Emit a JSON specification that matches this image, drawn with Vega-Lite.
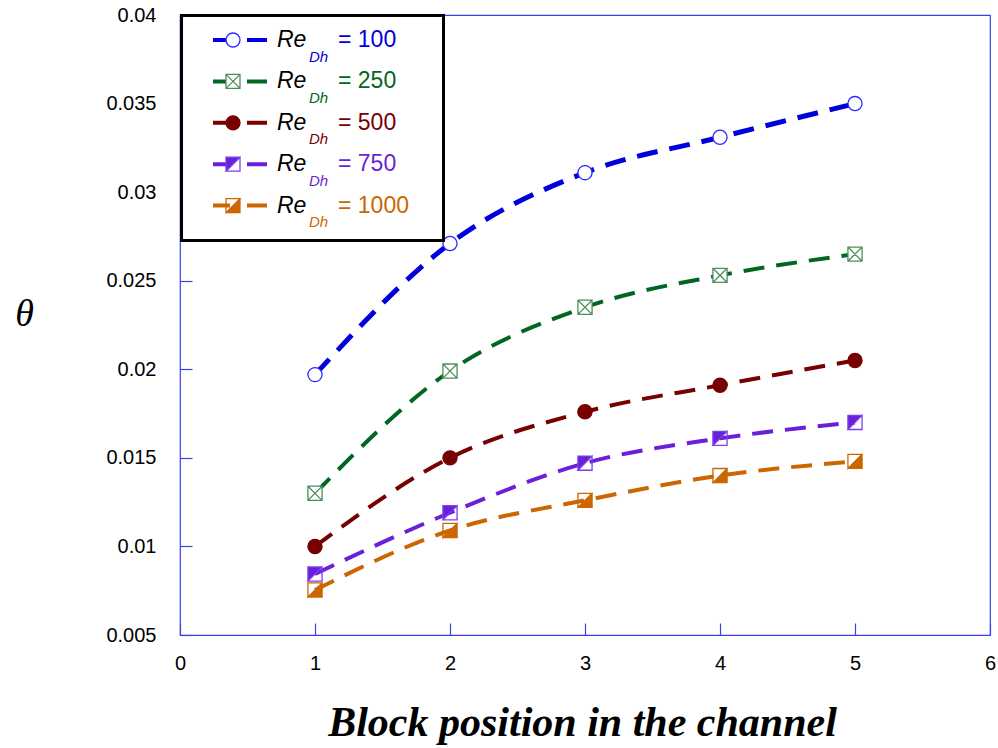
{
  "$schema": "https://vega.github.io/schema/vega-lite/v6.json",
  "width": 810,
  "height": 620,
  "autosize": {"type": "none"},
  "padding": {"left": 180, "top": 15, "right": 8, "bottom": 113},
  "background": "white",
  "config": {
    "view": {"stroke": "#3344ee", "strokeWidth": 1.2},
    "font": "Liberation Sans"
  },
  "data": {
    "values": [
      {"pos": 1, "theta": 0.0197, "Re": 100},
      {"pos": 2, "theta": 0.0271, "Re": 100},
      {"pos": 3, "theta": 0.0311, "Re": 100},
      {"pos": 4, "theta": 0.0331, "Re": 100},
      {"pos": 5, "theta": 0.0350, "Re": 100},
      {"pos": 1, "theta": 0.0130, "Re": 250},
      {"pos": 2, "theta": 0.0199, "Re": 250},
      {"pos": 3, "theta": 0.0235, "Re": 250},
      {"pos": 4, "theta": 0.0253, "Re": 250},
      {"pos": 5, "theta": 0.0265, "Re": 250},
      {"pos": 1, "theta": 0.0100, "Re": 500},
      {"pos": 2, "theta": 0.0150, "Re": 500},
      {"pos": 3, "theta": 0.0176, "Re": 500},
      {"pos": 4, "theta": 0.0191, "Re": 500},
      {"pos": 5, "theta": 0.0205, "Re": 500},
      {"pos": 1, "theta": 0.00844, "Re": 750},
      {"pos": 2, "theta": 0.0119, "Re": 750},
      {"pos": 3, "theta": 0.0147, "Re": 750},
      {"pos": 4, "theta": 0.0161, "Re": 750},
      {"pos": 5, "theta": 0.0170, "Re": 750},
      {"pos": 1, "theta": 0.00754, "Re": 1000},
      {"pos": 2, "theta": 0.0109, "Re": 1000},
      {"pos": 3, "theta": 0.0126, "Re": 1000},
      {"pos": 4, "theta": 0.0140, "Re": 1000},
      {"pos": 5, "theta": 0.0148, "Re": 1000}
    ]
  },
  "encoding": {
    "x": {
      "field": "pos", "type": "quantitative",
      "scale": {"domain": [0, 6], "nice": false},
      "axis": {
        "values": [0, 1, 2, 3, 4, 5, 6], "format": "d", "grid": false,
        "domain": false, "offset": -12,
        "tickSize": 12, "tickColor": "#3344ee", "tickWidth": 1.2,
        "labelFontSize": 20, "labelColor": "black", "labelPadding": 18, "labelFlush": false,
        "title": "Block position in the channel",
        "titleFont": "Liberation Serif", "titleFontSize": 42, "titleFontStyle": "italic", "titleFontWeight": "bold",
        "titleColor": "black", "titleX": 402, "titleY": 112, "titleBaseline": "alphabetic", "titleAlign": "center"
      }
    },
    "y": {
      "field": "theta", "type": "quantitative",
      "scale": {"domain": [0.005, 0.04], "nice": false, "zero": false},
      "axis": {
        "values": [0.005, 0.01, 0.015, 0.02, 0.025, 0.03, 0.035, 0.04], "format": "~g", "grid": false,
        "domain": false, "offset": -12,
        "tickSize": 12, "tickColor": "#3344ee", "tickWidth": 1.2,
        "labelFontSize": 20, "labelColor": "black", "labelPadding": 24,
        "title": "θ", "titleAngle": 0,
        "titleFont": "Liberation Serif", "titleFontSize": 38, "titleFontStyle": "italic", "titleFontWeight": "normal",
        "titleColor": "black", "titleX": -168, "titleY": 299, "titleBaseline": "middle", "titleAlign": "center"
      }
    }
  },
  "layer": [
    {
      "mark": {"type": "line", "interpolate": "monotone", "strokeDash": [21, 12], "strokeCap": "butt"},
      "encoding": {
        "color": {
          "field": "Re", "type": "ordinal",
          "scale": {"range": ["#0000dd", "#006622", "#770000", "#6a1fd9", "#cc6600"]},
          "legend": {
            "orient": "none", "legendX": 1.5, "legendY": 0.5, "direction": "vertical",
            "padding": 13, "strokeColor": "black", "fillColor": "white",
            "title": "\u00a0", "titleOrient": "bottom", "titleFontSize": 8, "titlePadding": 2,
            "symbolType": "M-5.4,0H-2 M1.4,0H5.4 M36.4,0", "symbolSize": 100, "symbolStrokeWidth": 4,
            "symbolDash": [200, 0],
            "symbolOffset": 34, "labelOffset": 86.5,
            "labelFont": "Liberation Sans", "labelFontSize": 23, "labelLimit": 300,
            "labelExpr": "'= ' + datum.label",
            "rowPadding": 17.4,
            "encode": {
              "labels": {"update": {"fill": {"scale": "color", "field": "value"}}},
              "legend": {"update": {"strokeWidth": {"value": 3}}}
            }
          }
        },
        "strokeWidth": {
          "field": "Re", "type": "quantitative",
          "scale": {"domain": [100, 250], "range": [5, 4], "clamp": true},
          "legend": {
            "orient": "none", "legendX": 114, "legendY": 34, "direction": "vertical",
            "padding": 0, "title": null, "values": [100, 250, 500, 750, 1000],
            "symbolSize": 0, "symbolOpacity": 0, "symbolOffset": 0, "labelOffset": 0,
            "labelFont": "Liberation Sans", "labelFontSize": 15, "labelFontStyle": "italic",
            "labelExpr": "'Dh'", "rowPadding": 25.4,
            "encode": {
              "labels": {"update": {"fill": {"scale": "color", "field": "value"}}}
            }
          }
        }
      }
    },
    {
      "mark": {"type": "point", "opacity": 1, "strokeWidth": 1.3, "size": 200},
      "encoding": {
        "shape": {
          "field": "Re", "type": "ordinal",
          "scale": {
            "domain": [100, 250, 500, 750, 1000],
            "range": [
              "circle",
              "M-1,-1L1,-1L1,1L-1,1Z M-1,-1L1,1 M1,-1L-1,1",
              "circle",
              "M-1,-1L1,-1L1,1L-1,1Z M1,-1L-1,1L1,1Z",
              "M-1,-1L1,-1L1,1L-1,1Z M-1,-1L-1,1L1,-1Z"
            ]
          },
          "legend": {
            "orient": "none", "legendX": 41.5, "legendY": 13.5, "direction": "vertical",
            "padding": 0, "title": null, "symbolSize": 196, "symbolStrokeWidth": 1.3,
            "symbolOffset": 0, "labelOffset": 32.5,
            "labelFont": "Liberation Sans", "labelFontSize": 23, "labelFontStyle": "italic",
            "labelExpr": "'Re'", "rowPadding": 17.4,
            "encode": {
              "labels": {"update": {"fill": {"scale": "color", "field": "value"}}}
            }
          }
        },
        "stroke": {
          "field": "Re", "type": "ordinal",
          "scale": {"domain": [100, 250, 500, 750, 1000], "range": ["#2a2aff", "#4d8f5c", "#770000", "#7a3ff0", "#cc6600"]},
          "legend": {
            "orient": "none", "legendX": 41.5, "legendY": 13.5, "direction": "vertical",
            "padding": 0, "title": null, "symbolSize": 196, "symbolStrokeWidth": 1.3,
            "symbolOffset": 0, "labelOffset": 32.5,
            "labelFont": "Liberation Sans", "labelFontSize": 23, "labelFontStyle": "italic",
            "labelExpr": "'Re'", "rowPadding": 17.4,
            "encode": {
              "labels": {"update": {"fill": {"scale": "color", "field": "value"}}}
            }
          }
        },
        "fill": {
          "field": "Re", "type": "ordinal",
          "scale": {"domain": [100, 250, 500, 750, 1000], "range": ["white", "white", "#770000", "#6a1fd9", "#cc6600"]},
          "legend": {
            "orient": "none", "legendX": 41.5, "legendY": 13.5, "direction": "vertical",
            "padding": 0, "title": null, "symbolSize": 196, "symbolStrokeWidth": 1.3,
            "symbolOffset": 0, "labelOffset": 32.5,
            "labelFont": "Liberation Sans", "labelFontSize": 23, "labelFontStyle": "italic",
            "labelExpr": "'Re'", "rowPadding": 17.4,
            "encode": {
              "labels": {"update": {"fill": {"scale": "color", "field": "value"}}}
            }
          }
        }
      }
    }
  ]
}
